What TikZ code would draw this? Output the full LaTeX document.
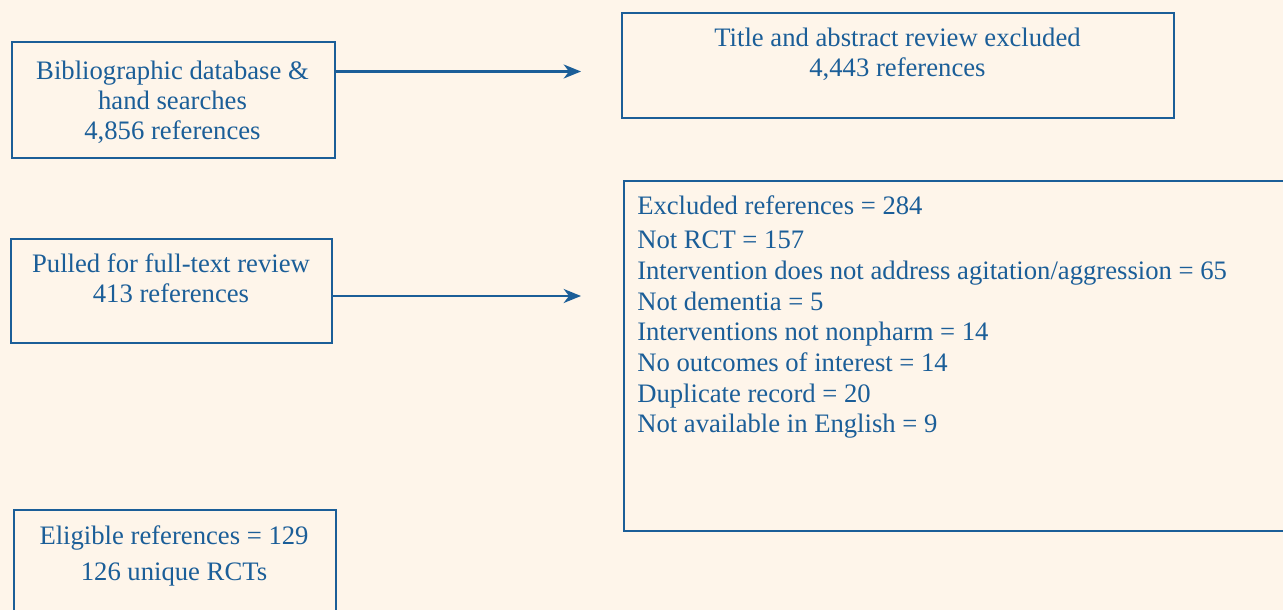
\documentclass[tikz,border=0pt]{standalone}
\usepackage{fontspec}
\setmainfont{Liberation Serif}
\usetikzlibrary{arrows.meta}
\definecolor{bg}{HTML}{FEF5EA}
\definecolor{bl}{HTML}{1B5E98}
\begin{document}
\begin{tikzpicture}[x=0.75pt,y=-0.75pt,
  box/.style={draw=bl,line width=1.6pt,rectangle,inner sep=0pt,anchor=north west},
  txt/.style={text=bl,font=\fontsize{20}{22.5}\selectfont,align=center,inner sep=0pt},
  arr/.style={draw=bl,line width=1.6pt,-{Stealth[length=13pt,width=10.5pt,inset=4pt]}}]
\useasboundingbox (0,0) rectangle (1283,610);
\clip (0,0) rectangle (1283,610);
\fill[bg] (0,0) rectangle (1283,610);
% boxes
\node[box,minimum width=242.25pt,minimum height=87pt] (b1) at (11,41) {};
\node[box,minimum width=414pt,minimum height=78.75pt] (b2) at (621,12) {};
\node[box,minimum width=240.75pt,minimum height=78pt] (b3) at (10,238) {};
\node[box,minimum width=525pt,minimum height=262.5pt] (b4) at (623,180) {};
\node[box,minimum width=241.5pt,minimum height=120pt] (b5) at (13,509) {};
% texts
\node[txt] (t1) at (172.5,102) {Bibliographic database \&\\hand searches\\4,856 references};
\node[txt] (t2) at (897.5,54) {Title and abstract review excluded\\4,443 references};
\node[txt] (t3) at (171,278.5) {Pulled for full-text review\\413 references};
\node[txt,anchor=north west,align=left,font=\fontsize{20}{23}\selectfont] (t4) at (637,195) {Excluded references = 284\\[3.2pt]
Not RCT = 157\\
Intervention does not address agitation/aggression = 65\\
Not dementia = 5\\
Interventions not nonpharm = 14\\
No outcomes of interest = 14\\
Duplicate record = 20\\
Not available in English = 9};
\node[txt,font=\fontsize{20}{27}\selectfont] (t5) at (174,556) {Eligible references = 129\\126 unique RCTs};
% arrows
\coordinate (e1) at (581,71.5);
\coordinate (e2) at (581,296);
\draw[arr] (b1.east |- e1) -- (e1);
\draw[arr] (b3.east |- e2) -- (e2);
\end{tikzpicture}
\end{document}
